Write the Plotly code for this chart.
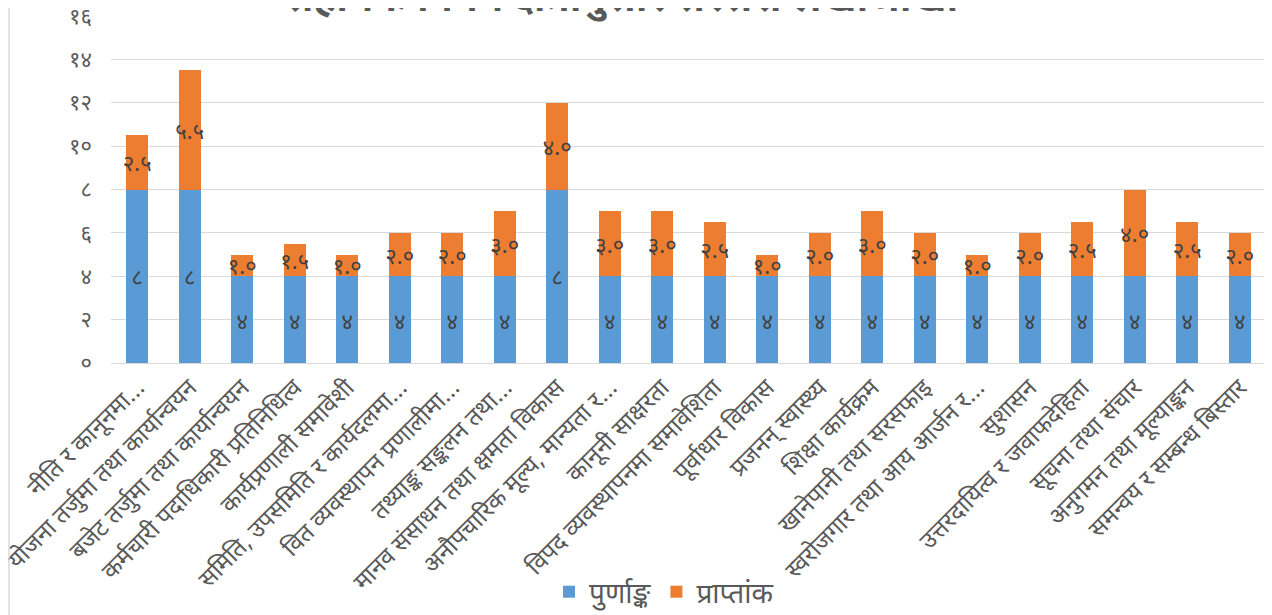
import plotly.graph_objects as go

categories = [
    "नीति र कानूनमा...",
    "योजना तर्जुमा तथा कार्यान्वयन",
    "बजेट तर्जुमा तथा कार्यान्वयन",
    "कर्मचारी पदाधिकारी प्रतिनिधित्व",
    "कार्यप्रणाली समावेशी",
    "समिति, उपसमिति र कार्यदलमा...",
    "वित व्यवस्थापन प्रणालीमा...",
    "तथ्याङ्क सङ्कलन तथा...",
    "मानव संसाधन तथा क्षमता विकास",
    "अनौपचारिक मूल्य, मान्यता र...",
    "कानूनी साक्षरता",
    "विपद व्यवस्थापनमा समावेशिता",
    "पूर्वाधार विकास",
    "प्रजनन् स्वास्थ्य",
    "शिक्षा कार्यक्रम",
    "खानेपानी तथा सरसफाइ",
    "स्वरोजगार तथा आय आर्जन र...",
    "सुशासन",
    "उत्तरदायित्व र जवाफदेहिता",
    "सूचना तथा संचार",
    "अनुगमन तथा मूल्याङ्कन",
    "समन्वय र सम्बन्ध बिस्तार",
]
full_marks = [8, 8, 4, 4, 4, 4, 4, 4, 8, 4, 4, 4, 4, 4, 4, 4, 4, 4, 4, 4, 4, 4]
obtained = [2.5, 5.5, 1.0, 1.5, 1.0, 2.0, 2.0, 3.0, 4.0, 3.0, 3.0, 2.5,
            1.0, 2.0, 3.0, 2.0, 1.0, 2.0, 2.5, 4.0, 2.5, 2.0]
y_tickvals = [0, 2, 4, 6, 8, 10, 12, 14, 16]
y_ticktext = ["०", "२", "४", "६", "८", "१०", "१२", "१४", "१६"]
series_names = ["पुर्णाङ्क", "प्राप्तांक"]
title_text = "सहायक विषय क्षेत्रानुसार सरसरी लेखाजोखा"

DEV = str.maketrans("0123456789", "०१२३४५६७८९")
def dev(s):
    return s.translate(DEV)

FONT = "Noto Sans, Noto Sans Devanagari, Lohit Devanagari, FreeSans, sans-serif"

fig = go.Figure()
fig.add_trace(go.Bar(
    x=categories, y=full_marks, name=series_names[0],
    marker=dict(color="#5B9BD5", line=dict(width=0)),
    text=[dev(str(v)) for v in full_marks],
    textposition="inside", insidetextanchor="middle",
    textfont=dict(size=22, color="#404040", family=FONT),
    textangle=0,
))
fig.add_trace(go.Bar(
    x=categories, y=obtained, name=series_names[1],
    marker=dict(color="#ED7D31", line=dict(width=0)),
    text=[dev(f"{v:.1f}") for v in obtained],
    textposition="inside", insidetextanchor="middle",
    textfont=dict(size=22, color="#404040", family=FONT),
    textangle=0,
))

# page body has an 8px margin: figure coords = screen coords - 8
OFF = 8
W, H = 1272, 615
top, left = 16 - OFF, 111 - OFF
bottom = H - (363 - OFF)
right = W - (1266 - OFF)
ph = H - top - bottom
pw = W - left - right

def px(xs):
    return (xs - OFF - left) / pw

def py(ys):
    return 1 - (ys - OFF - top) / ph

fig.update_layout(
    barmode="stack",
    bargap=0.58,
    width=W, height=H,
    margin=dict(l=left, r=right, t=top, b=bottom, pad=0, autoexpand=False),
    plot_bgcolor="white", paper_bgcolor="white",
    font=dict(family=FONT, color="#595959"),
    uniformtext=dict(mode=False),
    legend=dict(orientation="h", x=px(664), xanchor="center",
                y=py(592), yanchor="middle",
                font=dict(size=28, color="#595959"),
                traceorder="normal"),
    showlegend=True,
    annotations=[dict(text="<b>" + title_text + "</b>", xref="paper", yref="paper",
                      x=px(622), y=py(25),
                      xanchor="center", yanchor="bottom", showarrow=False,
                      font=dict(size=40, color="#595959", family=FONT))],
    shapes=[dict(type="line", xref="paper", yref="paper",
                 x0=px(9), x1=px(9),
                 y0=py(615), y1=py(8),
                 line=dict(color="#D9D9D9", width=1.5))],
)
fig.update_traces(cliponaxis=False, constraintext="none")
fig.update_xaxes(tickangle=-45, tickfont=dict(size=24, color="#595959"),
                 showgrid=False, showline=True, linecolor="#D9D9D9", linewidth=1,
                 ticks="", automargin=False, ticklabeloverflow="allow")
fig.update_yaxes(range=[0, 16], tickvals=y_tickvals, ticktext=y_ticktext,
                 tickfont=dict(size=22, color="#595959"),
                 showgrid=True, gridcolor="#D9D9D9", gridwidth=1,
                 zeroline=True, zerolinecolor="#D9D9D9", zerolinewidth=1,
                 showline=False, ticks="", ticklabelstandoff=18, automargin=False,
                 ticklabeloverflow="allow")

fig.write_html("out.html")
